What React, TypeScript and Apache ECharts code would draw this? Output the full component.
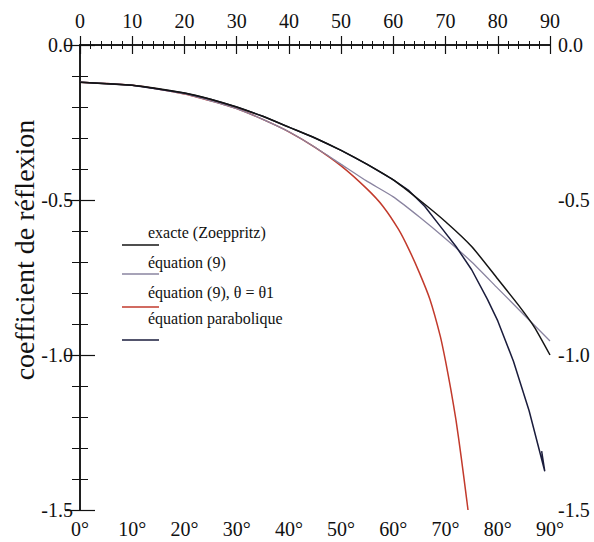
import React, { useEffect, useRef } from "react";
import * as echarts from "echarts";

// Angle of incidence (degrees) and reflection coefficient values per curve
const exactAngles = [0, 10, 20, 25, 30, 35, 40, 45, 50, 55, 60, 65, 70, 75, 80, 84, 87, 90];
const exactValues = [-0.12, -0.13, -0.155, -0.175, -0.2, -0.23, -0.265, -0.3, -0.34, -0.385, -0.435, -0.5, -0.57, -0.65, -0.755, -0.84, -0.91, -1.0];

const eq9Angles = [0, 10, 20, 25, 30, 35, 40, 45, 50, 55, 60, 65, 70, 75, 80, 85, 90];
const eq9Values = [-0.12, -0.13, -0.158, -0.18, -0.205, -0.24, -0.28, -0.33, -0.385, -0.44, -0.49, -0.555, -0.625, -0.7, -0.785, -0.87, -0.955];

const eq9ThetaAngles = [0, 10, 20, 25, 30, 35, 40, 45, 50, 55, 58, 61, 63, 65, 67, 69, 70, 71, 72, 73, 74, 74.3];
const eq9ThetaValues = [-0.12, -0.13, -0.158, -0.18, -0.205, -0.24, -0.28, -0.33, -0.39, -0.465, -0.52, -0.595, -0.66, -0.735, -0.82, -0.94, -1.02, -1.11, -1.21, -1.33, -1.46, -1.5];

const paraAngles = [0, 10, 20, 25, 30, 35, 40, 45, 50, 55, 60, 63, 66, 69, 72, 75, 78, 80, 83, 86, 89, 88.4];
const paraValues = [-0.12, -0.13, -0.155, -0.175, -0.2, -0.23, -0.265, -0.3, -0.34, -0.385, -0.435, -0.47, -0.52, -0.585, -0.65, -0.725, -0.82, -0.89, -1.02, -1.18, -1.375, -1.31];

const legendLabels = ["exacte (Zoeppritz)", "équation (9)", "équation (9), θ = θ1", "équation parabolique"];
const yAxisTitle = "coefficient de réflexion";

const COLORS = {
  exact: "#141414",
  eq9: "#8a84a0",
  eq9Theta: "#c23a2c",
  para: "#1a1c3c",
};

const FONT = "Liberation Serif";

function zip(xs: number[], ys: number[]) {
  return xs.map((x, i) => [x, ys[i]]);
}

export default function App() {
  const ref = useRef<HTMLDivElement>(null);

  useEffect(() => {
    document.body.style.margin = "0";
    const chart = echarts.init(ref.current!, null, { renderer: "svg" });

    const xCommon = {
      type: "value" as const,
      min: 0,
      max: 90,
      interval: 10,
      splitLine: { show: false },
      axisLine: { show: true, lineStyle: { color: "#111", width: 1.5 } },
      axisTick: { show: true, inside: true, length: 9, lineStyle: { color: "#111", width: 1.2 } },
      minorTick: { show: true, splitNumber: 5, length: 4, lineStyle: { color: "#111", width: 1 } },
      minorSplitLine: { show: false },
    };
    const yCommon = {
      type: "value" as const,
      min: -1.5,
      max: 0,
      interval: 0.5,
      splitLine: { show: false },
      axisLine: { show: true, lineStyle: { color: "#111", width: 1.5 } },
      axisTick: { show: true, inside: true, length: 15, lineStyle: { color: "#111", width: 1.2 } },
      minorTick: { show: true, splitNumber: 5, length: 8, lineStyle: { color: "#111", width: 1 } },
      minorSplitLine: { show: false },
      axisLabel: {
        color: "#111",
        fontFamily: FONT,
        fontSize: 20,
        margin: 7,
        formatter: (v: number) => v.toFixed(1),
      },
    };

    const legendTextY = [232, 262, 292, 318];
    const legendLineY = [245, 274, 307, 340];
    const legendColors = [COLORS.exact, COLORS.eq9, COLORS.eq9Theta, COLORS.para];
    const legendGraphics: any[] = [];
    legendLabels.forEach((label, i) => {
      legendGraphics.push({
        type: "text",
        x: 148,
        y: legendTextY[i],
        style: {
          text: label,
          fontFamily: FONT,
          fontSize: 16,
          fill: "#111",
          align: "left",
          verticalAlign: "middle",
        },
      });
      legendGraphics.push({
        type: "line",
        shape: { x1: 122, y1: legendLineY[i], x2: 159, y2: legendLineY[i] },
        style: { stroke: legendColors[i], lineWidth: 1.6 },
      });
    });

    chart.setOption({
      animation: false,
      backgroundColor: "#ffffff",
      textStyle: { fontFamily: FONT },
      grid: { left: 80, right: 44, top: 45, bottom: 32, containLabel: false },
      xAxis: [
        {
          ...xCommon,
          position: "bottom",
          axisLabel: {
            color: "#111",
            fontFamily: FONT,
            fontSize: 20,
            margin: 9,
            formatter: (v: number) => `${v}°`,
          },
        },
        {
          ...xCommon,
          position: "top",
          axisLabel: {
            color: "#111",
            fontFamily: FONT,
            fontSize: 20,
            margin: 14,
            formatter: (v: number) => `${v}`,
          },
        },
      ],
      yAxis: [
        { ...yCommon, position: "left" },
        { ...yCommon, position: "right", axisLabel: { ...yCommon.axisLabel, margin: 8 } },
      ],
      graphic: [
        {
          type: "text",
          x: 24,
          y: 250,
          rotation: Math.PI / 2,
          style: {
            text: yAxisTitle,
            fontFamily: FONT,
            fontSize: 28,
            fill: "#111",
            align: "center",
            verticalAlign: "middle",
          },
        },
        ...legendGraphics,
      ],
      series: [
        {
          name: legendLabels[2],
          type: "line",
          data: zip(eq9ThetaAngles, eq9ThetaValues),
          smooth: 0.2,
          symbol: "none",
          lineStyle: { color: COLORS.eq9Theta, width: 1.5 },
        },
        {
          name: legendLabels[1],
          type: "line",
          data: zip(eq9Angles, eq9Values),
          smooth: 0.2,
          symbol: "none",
          lineStyle: { color: COLORS.eq9, width: 1.3 },
        },
        {
          name: legendLabels[3],
          type: "line",
          data: zip(paraAngles, paraValues),
          smooth: false,
          symbol: "none",
          lineStyle: { color: COLORS.para, width: 1.5 },
        },
        {
          name: legendLabels[0],
          type: "line",
          data: zip(exactAngles, exactValues),
          smooth: 0.2,
          symbol: "none",
          lineStyle: { color: COLORS.exact, width: 1.5 },
        },
      ],
    });

    return () => chart.dispose();
  }, []);

  return <div ref={ref} style={{ width: 594, height: 542 }} />;
}
